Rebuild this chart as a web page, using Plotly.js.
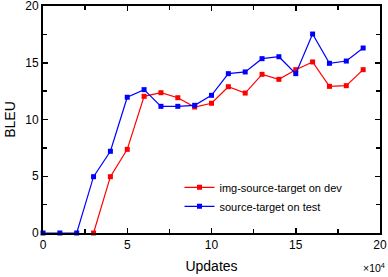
<!DOCTYPE html>
<html>
<head>
<meta charset="utf-8">
<script src="https://cdn.plot.ly/plotly-3.0.1.min.js"></script>
<style>html,body{margin:0;padding:0;background:#fff;}#chart{width:388px;height:277px;}</style>
</head>
<body>
<div id="chart"></div>
<script>
const devUpdates = [3,4,5,6,7,8,9,10,11,12,13,14,15,16,17,18,19];
const devBleu = [0,4.96,7.37,12.04,12.36,11.92,11.1,11.43,12.89,12.33,13.98,13.54,14.39,15.07,12.92,12.98,14.39];
const testUpdates = [0,1,2,3,4,5,6,7,8,9,10,11,12,13,14,15,16,17,18,19];
const testBleu = [0,0,0,4.96,7.2,11.96,12.63,11.16,11.16,11.25,12.13,14.04,14.19,15.36,15.53,14.04,17.53,14.95,15.15,16.3];
const seriesNames = ['img-source-target on dev','source-target on test'];
const xTicks = [0,5,10,15,20];
const yTicks = [0,5,10,15,20];

const font = 'Liberation Sans, Arial, sans-serif';
const traces = [
  {x: devUpdates, y: devBleu, name: seriesNames[0], mode: 'lines+markers', cliponaxis: false,
   line: {color: '#ff0000', width: 1.2}, marker: {symbol: 'square', size: 5, color: '#ff0000'}},
  {x: testUpdates, y: testBleu, name: seriesNames[1], mode: 'lines+markers', cliponaxis: false,
   line: {color: '#0000ff', width: 1.2}, marker: {symbol: 'square', size: 5, color: '#0000ff'}}
];
const axisCommon = {
  showgrid: false, zeroline: false, showline: true, linecolor: '#000', linewidth: 2,
  mirror: 'ticks', ticks: 'inside', ticklen: 5, tickwidth: 1.5, tickcolor: '#000',
  ticklabeloverflow: 'allow',
  tickfont: {family: font, size: 12, color: '#000'},
  minor: {dtick: 2.5, ticks: 'inside', ticklen: 4, tickwidth: 1.5, tickcolor: '#000'}
};
const layout = {
  width: 388, height: 277,
  margin: {l: 43, r: 8, t: 6, b: 44},
  paper_bgcolor: '#fff', plot_bgcolor: '#fff',
  showlegend: true,
  legend: {x: 0.405, y: 0.265, xanchor: 'left', yanchor: 'top', bgcolor: 'rgba(0,0,0,0)',
           font: {family: font, size: 11, color: '#000'}, tracegroupgap: 0, itemwidth: 30},
  xaxis: Object.assign({}, axisCommon, {range: [0, 20], tickvals: xTicks, ticktext: xTicks.map(String),
    title: {text: 'Updates', font: {family: font, size: 14, color: '#000'}, standoff: 10}}),
  yaxis: Object.assign({}, axisCommon, {range: [0, 20], tickvals: yTicks, ticktext: yTicks.map(String),
    title: {text: 'BLEU', font: {family: font, size: 14, color: '#000'}, standoff: 6}}),
  annotations: [{xref: 'paper', yref: 'paper', x: 1.02, y: -0.115, xanchor: 'right', yanchor: 'top',
    text: '×10<sup>4</sup>', showarrow: false, font: {family: font, size: 10.5, color: '#000'}}]
};
Plotly.newPlot('chart', traces, layout, {displayModeBar: false, staticPlot: true});
</script>
</body>
</html>
